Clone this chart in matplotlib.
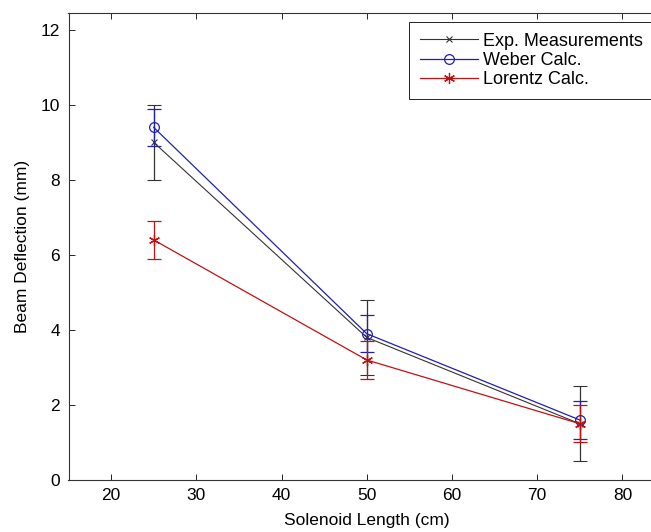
import numpy as np
import matplotlib.pyplot as plt
from matplotlib.lines import Line2D

plt.rcParams['font.family'] = ['Liberation Sans', 'DejaVu Sans']

# solenoid length (cm)
length = [25, 50, 75]

# beam deflection (mm) and error half-widths
exp_vals = [9.0, 3.8, 1.5]
exp_err = [1.0, 1.0, 1.0]
weber_vals = [9.4, 3.9, 1.6]
weber_err = [0.5, 0.5, 0.5]
lorentz_vals = [6.4, 3.2, 1.5]
lorentz_err = [0.5, 0.5, 0.5]

c_exp = '#333333'
c_web = '#2020b0'
c_lor = '#c01010'
star = (6, 2, 0)

fig = plt.figure(figsize=(6.51, 5.32), dpi=100)
ax = fig.add_axes([68.5 / 651, 52 / 532, 596.5 / 651, 467 / 532])

ax.errorbar(length, exp_vals, yerr=exp_err, color=c_exp, lw=0.8,
            marker='x', ms=5, mew=0.8, capsize=5, elinewidth=0.9)
ax.errorbar(length, weber_vals, yerr=weber_err, color=c_web, lw=0.9,
            marker='o', ms=7, mfc='none', mew=0.9, capsize=5, elinewidth=0.9)
ax.errorbar(length, lorentz_vals, yerr=lorentz_err, color=c_lor, lw=0.9,
            marker=star, ms=8, mew=0.9, capsize=5, elinewidth=0.9)

ax.set_xlim(15, 85)
ax.set_ylim(0, 12.45)
ax.set_xticks(np.arange(20, 81, 10))
ax.set_yticks(np.arange(0, 13, 2))
ax.tick_params(direction='in', top=True, right=True, length=4, width=0.6,
               labelsize=12.5, pad=6)
for s in ax.spines.values():
    s.set_linewidth(0.8)
    s.set_color('#333333')
ax.spines['right'].set_visible(False)

ax.set_xlabel('Solenoid Length (cm)', fontsize=12.5, labelpad=7)
ax.set_ylabel('Beam Deflection (mm)', fontsize=12.5, labelpad=8)

handles = [
    Line2D([], [], color=c_exp, lw=0.8, marker='x', ms=5, mew=0.8),
    Line2D([], [], color=c_web, lw=0.9, marker='o', ms=7, mfc='none', mew=0.9),
    Line2D([], [], color=c_lor, lw=0.9, marker=star, ms=8, mew=0.9),
]
labels = ['Exp. Measurements', 'Weber Calc.', 'Lorentz Calc.']
leg = ax.legend(handles, labels, loc='upper left', bbox_to_anchor=(0.571, 0.981),
                fontsize=13, fancybox=False, framealpha=1, edgecolor='black',
                handlelength=3.2, borderaxespad=0, labelspacing=0.12,
                borderpad=0.6, handletextpad=0.3)
leg.get_frame().set_linewidth(0.6)

fig.savefig('out.png', dpi=100)
